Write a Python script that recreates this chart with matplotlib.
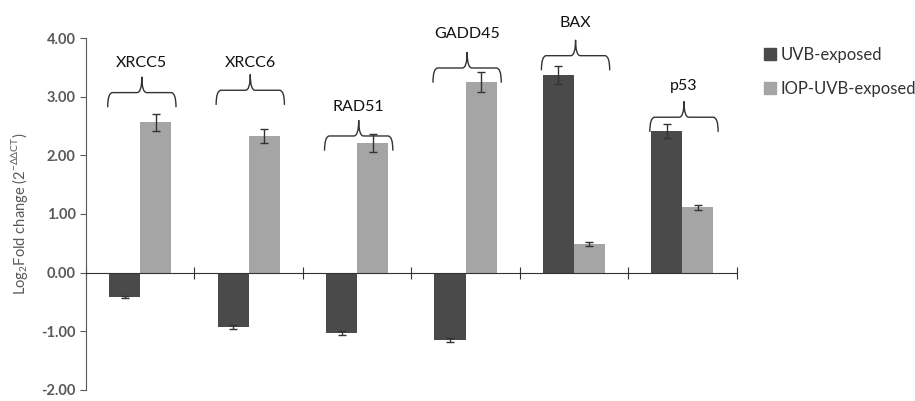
import matplotlib
matplotlib.use("Agg")
import matplotlib.pyplot as plt
from matplotlib.path import Path
from matplotlib.patches import PathPatch, Patch
import matplotlib.ticker as mticker
import numpy as np

DARK = "#4a4a4a"
LIGHT = "#a5a5a5"
GRAY = "#595959"

plt.rcParams["font.family"] = ["Lato", "DejaVu Sans"]
plt.rcParams["mathtext.fontset"] = "custom"
plt.rcParams["mathtext.rm"] = "Lato"

genes = ["XRCC5", "XRCC6", "RAD51", "GADD45", "BAX", "p53"]
uvb = [-0.42, -0.93, -1.03, -1.15, 3.37, 2.41]
uvb_err = [0.02, 0.03, 0.04, 0.04, 0.15, 0.12]
iop = [2.56, 2.33, 2.21, 3.25, 0.49, 1.11]
iop_err = [0.14, 0.12, 0.16, 0.17, 0.03, 0.05]

# brace base (end hooks) and label height per gene
brace_base = [2.82, 2.86, 2.08, 3.24, 3.45, 2.40]
label_y = [3.58, 3.58, 2.82, 4.07, 4.25, 3.19]

fig = plt.figure(figsize=(9.15, 4.01), dpi=100)
ax = fig.add_axes([0.094, 0.028, 0.711, 0.877])

x = np.arange(len(genes))
w = 0.286
ax.bar(x - w / 2, uvb, w, color=DARK, label="UVB-exposed", zorder=2)
ax.bar(x + w / 2, iop, w, color=LIGHT, label="IOP-UVB-exposed", zorder=2)
ekw = dict(fmt="none", ecolor="#333333", elinewidth=1, capsize=3, capthick=1, zorder=3)
ax.errorbar(x - w / 2, uvb, yerr=uvb_err, **ekw)
ax.errorbar(x + w / 2, iop, yerr=iop_err, **ekw)


def brace(ax, x0, x1, y0, h1=0.25, h2=0.27, dx=0.045):
    xm = (x0 + x1) / 2
    ym = y0 + h1
    verts = [
        (x0, y0), (x0, ym), (x0 + dx, ym),
        (xm - dx, ym), (xm, ym), (xm, ym + h2),
        (xm, ym), (xm + dx, ym),
        (x1 - dx, ym), (x1, ym), (x1, y0),
    ]
    codes = [Path.MOVETO, Path.CURVE3, Path.CURVE3,
             Path.LINETO, Path.CURVE3, Path.CURVE3,
             Path.CURVE3, Path.CURVE3,
             Path.LINETO, Path.CURVE3, Path.CURVE3]
    ax.add_patch(PathPatch(Path(verts, codes), fill=False, lw=1.0,
                           ec="#333333", clip_on=False, zorder=4))


for i, g in enumerate(genes):
    brace(ax, i - 0.3, i + 0.33, brace_base[i])
    ax.text(i + 0.015, label_y[i], g, ha="center", va="center",
            fontsize=11.5, color="#111111", clip_on=False)

ax.set_xlim(-0.5, len(genes) - 0.5)
ax.set_ylim(-2, 4)
ax.yaxis.set_major_locator(mticker.MultipleLocator(1))
ax.yaxis.set_major_formatter(mticker.FormatStrFormatter("%.2f"))
ax.tick_params(axis="y", direction="out", length=4, color=GRAY, labelcolor=GRAY,
               labelsize=10.5)
for t in ax.get_yticklabels():
    t.set_fontweight("bold")

ax.spines[["top", "right"]].set_visible(False)
ax.spines["left"].set_color(GRAY)
ax.spines["bottom"].set_position(("data", 0))
ax.spines["bottom"].set_color("#333333")
ax.set_xticks(np.arange(len(genes) + 1) - 0.5)
ax.tick_params(axis="x", direction="inout", length=8, color="#333333", labelbottom=False)

ax.set_ylabel(r"Log$_2$Fold change (2$^{\mathrm{-ΔΔCT}}$)", color=GRAY, fontsize=10.5,
              labelpad=8)

handles = [Patch(color=DARK), Patch(color=LIGHT)]
fig.legend(handles, ["UVB-exposed", "IOP-UVB-exposed"], loc="upper left",
           bbox_to_anchor=(0.828, 0.9), frameon=False, fontsize=12,
           labelcolor="#333333", handlelength=0.7, handleheight=0.7,
           handletextpad=0.3, labelspacing=1.1, borderaxespad=0)

fig.savefig("out.png", dpi=100)
